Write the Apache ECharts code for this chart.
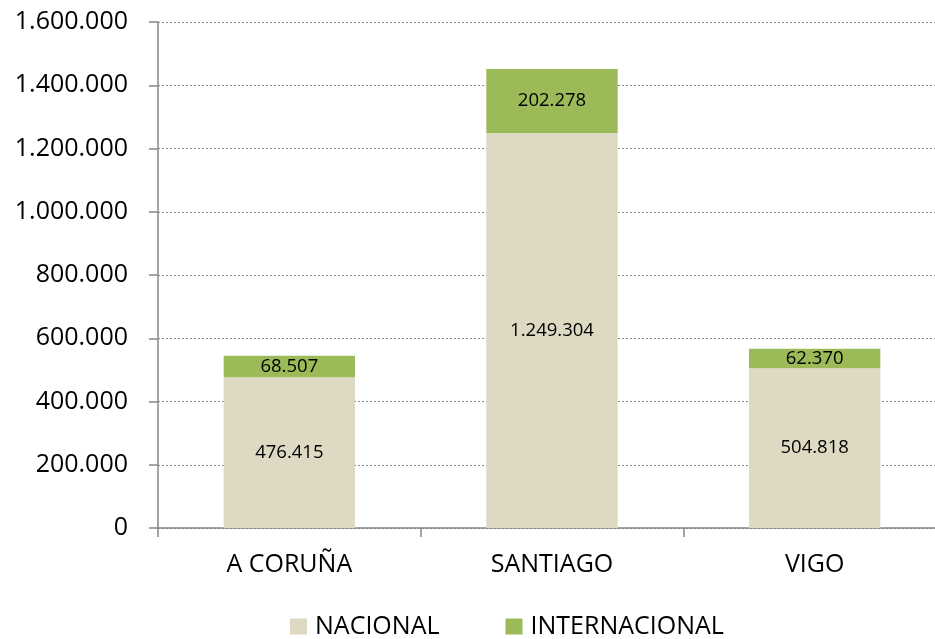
<!DOCTYPE html>
<html><head><meta charset="utf-8">
<script src="https://cdn.jsdelivr.net/npm/echarts@6/dist/echarts.min.js"></script>
<style>html,body{margin:0;padding:0;background:#fff}#c{width:935px;height:639px}</style>
</head><body><div id="c"></div>
<script>
const categories = ['A CORUÑA', 'SANTIAGO', 'VIGO'];
const nacional = [476415, 1249304, 504818];
const internacional = [68507, 202278, 62370];
const seriesNames = ['NACIONAL', 'INTERNACIONAL'];

function fmt(v) {
  return String(Math.round(v)).replace(/\B(?=(\d{3})+(?!\d))/g, '.');
}
const FONT = 'Open Sans';
const chart = echarts.init(document.getElementById('c'), null, {renderer: 'canvas'});
chart.setOption({
  animation: false,
  textStyle: {fontFamily: FONT},
  grid: {left: 158, width: 788, top: 22, bottom: 111, containLabel: false, outerBoundsMode: 'none'},
  legend: {
    top: 609, left: 285, itemGap: 66, itemWidth: 17, itemHeight: 16,
    icon: 'rect',
    textStyle: {fontFamily: FONT, fontSize: 25, color: '#000', padding: [0, 0, 0, 3]},
    data: seriesNames
  },
  xAxis: {
    type: 'category', data: categories,
    axisLine: {lineStyle: {color: '#868686', width: 1.5}},
    axisTick: {show: true, length: 9, inside: false, lineStyle: {color: '#868686', width: 1.5}},
    axisLabel: {fontFamily: FONT, fontSize: 25, color: '#000', margin: 24}
  },
  yAxis: {
    type: 'value', min: 0, max: 1600000, interval: 200000,
    axisLine: {show: true, lineStyle: {color: '#868686', width: 1.5}},
    axisTick: {show: true, length: 9, lineStyle: {color: '#868686', width: 1.5}},
    splitLine: {lineStyle: {color: '#8c8c8c', type: [2, 2], width: 1}},
    axisLabel: {fontFamily: FONT, fontSize: 25, color: '#000', margin: 30, formatter: fmt}
  },
  series: [
    {
      name: seriesNames[0], type: 'bar', stack: 's', data: nacional, barWidth: '50%',
      itemStyle: {color: '#DDD9C3'},
      label: {show: true, position: 'inside', fontFamily: FONT, fontSize: 18.5, color: '#000', formatter: p => fmt(p.value)}
    },
    {
      name: seriesNames[1], type: 'bar', stack: 's', data: internacional, barWidth: '50%',
      itemStyle: {color: '#9BBB59'},
      label: {show: true, position: 'inside', fontFamily: FONT, fontSize: 18.5, color: '#000', formatter: p => fmt(p.value)}
    }
  ]
});
</script></body></html>
